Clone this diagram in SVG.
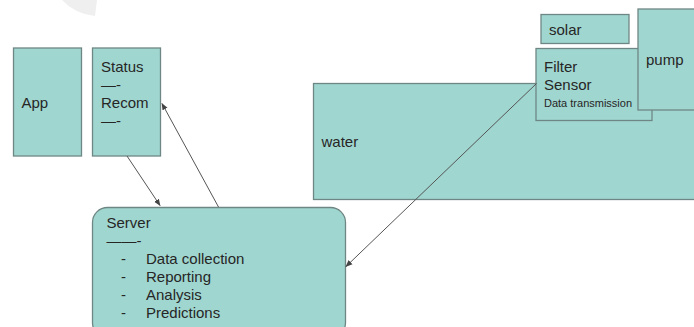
<svg xmlns="http://www.w3.org/2000/svg" width="694" height="327" viewBox="0 0 694 327">
<defs>
<style>
.box{fill:#a0d6d0;stroke:#6f8784;stroke-width:1.3}
.t{font-family:"Liberation Sans",Arial,sans-serif;font-size:15px;fill:#262626}
.s{font-size:11px}
.c{stroke:#555;stroke-width:1;fill:none}
</style>
<marker id="ah" viewBox="0 0 10 10" refX="9" refY="5" markerWidth="7" markerHeight="7" orient="auto" markerUnits="userSpaceOnUse">
<path d="M0,1 L10,5 L0,9 z" fill="#444"/>
</marker>
</defs>
<rect width="694" height="327" fill="#fff"/>
<path d="M62,0 Q75,14 95,16 L97,0 z" fill="#efefef"/>
<g id="app"><rect class="box" x="13.5" y="48" width="68" height="108"/><text class="t" x="21.5" y="108">App</text></g>
<g id="status"><rect class="box" x="92.5" y="48" width="68" height="108"/><text class="t" x="101" y="72">Status</text><text class="t" x="101" y="90">—-</text><text class="t" x="101" y="108">Recom</text><text class="t" x="101" y="126">—-</text></g>
<g id="water"><rect class="box" x="313.5" y="83.5" width="390" height="116"/><text class="t" x="321.5" y="147">water</text></g>
<g id="solar"><rect class="box" x="541" y="14.5" width="88" height="29"/><text class="t" x="549" y="35">solar</text></g>
<g id="filter"><rect class="box" x="536" y="48.5" width="116" height="72"/><text class="t" x="544" y="72">Filter</text><text class="t" x="544" y="90">Sensor</text><text class="t s" x="544" y="107">Data transmission</text></g>
<g id="pump"><rect class="box" x="638" y="9" width="70" height="101"/><text class="t" x="646" y="65">pump</text></g>
<g id="server"><rect class="box" x="92.5" y="207.5" width="253" height="130" rx="15"/><text class="t" x="106.5" y="228">Server</text><text class="t" x="106.5" y="246">——-</text><text class="t" x="121" y="264">-</text><text class="t" x="146" y="264">Data collection</text><text class="t" x="121" y="282">-</text><text class="t" x="146" y="282">Reporting</text><text class="t" x="121" y="300">-</text><text class="t" x="146" y="300">Analysis</text><text class="t" x="121" y="318">-</text><text class="t" x="146" y="318">Predictions</text></g>
<g id="connectors">
<line class="c" x1="127" y1="156" x2="160" y2="205.5" marker-end="url(#ah)"/>
<line class="c" x1="218.5" y1="207" x2="162" y2="103.5" marker-end="url(#ah)"/>
<line class="c" x1="536.5" y1="83.5" x2="346" y2="266.5" marker-end="url(#ah)"/>
</g>
</svg>
